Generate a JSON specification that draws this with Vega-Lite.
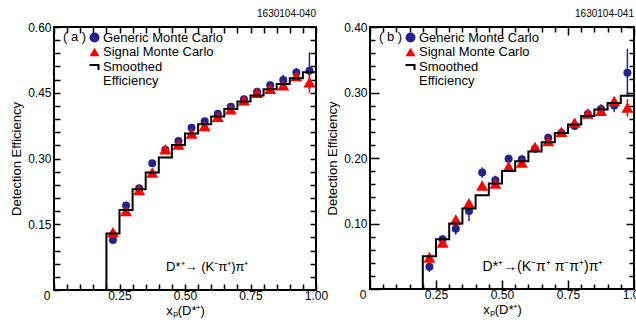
{
  "$schema": "https://vega.github.io/schema/vega-lite/v6.json",
  "padding": {"left": 9, "top": 8, "right": 0, "bottom": 4},
  "background": "white",
  "datasets": {
    "stepA": [
      {"edge": 0.2, "eff": 0}, {"edge": 0.25, "eff": 0.129}, {"edge": 0.3, "eff": 0.1825}, {"edge": 0.35, "eff": 0.23},
      {"edge": 0.4, "eff": 0.268}, {"edge": 0.45, "eff": 0.302}, {"edge": 0.5, "eff": 0.331}, {"edge": 0.55, "eff": 0.357},
      {"edge": 0.6, "eff": 0.378}, {"edge": 0.65, "eff": 0.396}, {"edge": 0.7, "eff": 0.413}, {"edge": 0.75, "eff": 0.43},
      {"edge": 0.8, "eff": 0.444}, {"edge": 0.85, "eff": 0.458}, {"edge": 0.9, "eff": 0.47}, {"edge": 0.95, "eff": 0.483},
      {"edge": 1.0, "eff": 0.497}
    ],
    "ptsA": [
      {"series": "Generic Monte Carlo", "x": 0.225, "eff": 0.114, "lo": 0.108, "hi": 0.120},
      {"series": "Generic Monte Carlo", "x": 0.275, "eff": 0.193, "lo": 0.187, "hi": 0.199},
      {"series": "Generic Monte Carlo", "x": 0.325, "eff": 0.232, "lo": 0.226, "hi": 0.238},
      {"series": "Generic Monte Carlo", "x": 0.375, "eff": 0.289, "lo": 0.283, "hi": 0.295},
      {"series": "Generic Monte Carlo", "x": 0.425, "eff": 0.320, "lo": 0.314, "hi": 0.326},
      {"series": "Generic Monte Carlo", "x": 0.475, "eff": 0.340, "lo": 0.334, "hi": 0.346},
      {"series": "Generic Monte Carlo", "x": 0.525, "eff": 0.370, "lo": 0.364, "hi": 0.376},
      {"series": "Generic Monte Carlo", "x": 0.575, "eff": 0.385, "lo": 0.379, "hi": 0.391},
      {"series": "Generic Monte Carlo", "x": 0.625, "eff": 0.402, "lo": 0.395, "hi": 0.409},
      {"series": "Generic Monte Carlo", "x": 0.675, "eff": 0.418, "lo": 0.411, "hi": 0.425},
      {"series": "Generic Monte Carlo", "x": 0.725, "eff": 0.435, "lo": 0.427, "hi": 0.443},
      {"series": "Generic Monte Carlo", "x": 0.775, "eff": 0.452, "lo": 0.444, "hi": 0.460},
      {"series": "Generic Monte Carlo", "x": 0.825, "eff": 0.467, "lo": 0.457, "hi": 0.477},
      {"series": "Generic Monte Carlo", "x": 0.875, "eff": 0.479, "lo": 0.467, "hi": 0.491},
      {"series": "Generic Monte Carlo", "x": 0.925, "eff": 0.496, "lo": 0.485, "hi": 0.507},
      {"series": "Generic Monte Carlo", "x": 0.975, "eff": 0.500, "lo": 0.458, "hi": 0.542},
      {"series": "Signal Monte Carlo", "x": 0.225, "eff": 0.132, "lo": 0.127, "hi": 0.137},
      {"series": "Signal Monte Carlo", "x": 0.275, "eff": 0.180, "lo": 0.175, "hi": 0.185},
      {"series": "Signal Monte Carlo", "x": 0.325, "eff": 0.228, "lo": 0.223, "hi": 0.233},
      {"series": "Signal Monte Carlo", "x": 0.375, "eff": 0.268, "lo": 0.263, "hi": 0.273},
      {"series": "Signal Monte Carlo", "x": 0.425, "eff": 0.321, "lo": 0.316, "hi": 0.326},
      {"series": "Signal Monte Carlo", "x": 0.475, "eff": 0.332, "lo": 0.327, "hi": 0.337},
      {"series": "Signal Monte Carlo", "x": 0.525, "eff": 0.357, "lo": 0.352, "hi": 0.362},
      {"series": "Signal Monte Carlo", "x": 0.575, "eff": 0.374, "lo": 0.369, "hi": 0.379},
      {"series": "Signal Monte Carlo", "x": 0.625, "eff": 0.395, "lo": 0.390, "hi": 0.400},
      {"series": "Signal Monte Carlo", "x": 0.675, "eff": 0.412, "lo": 0.407, "hi": 0.417},
      {"series": "Signal Monte Carlo", "x": 0.725, "eff": 0.433, "lo": 0.428, "hi": 0.438},
      {"series": "Signal Monte Carlo", "x": 0.775, "eff": 0.450, "lo": 0.445, "hi": 0.455},
      {"series": "Signal Monte Carlo", "x": 0.825, "eff": 0.459, "lo": 0.453, "hi": 0.465},
      {"series": "Signal Monte Carlo", "x": 0.875, "eff": 0.467, "lo": 0.460, "hi": 0.474},
      {"series": "Signal Monte Carlo", "x": 0.925, "eff": 0.488, "lo": 0.480, "hi": 0.496},
      {"series": "Signal Monte Carlo", "x": 0.975, "eff": 0.474, "lo": 0.450, "hi": 0.500}
    ],
    "txtA": [{"x": 0.585, "y": 0.052, "label": "D*⁺→ (K⁻π⁺)π⁺"}],
    "stepB": [
      {"edge": 0.2, "eff": 0}, {"edge": 0.25, "eff": 0.050}, {"edge": 0.3, "eff": 0.076}, {"edge": 0.35, "eff": 0.100},
      {"edge": 0.4, "eff": 0.123}, {"edge": 0.45, "eff": 0.143}, {"edge": 0.5, "eff": 0.161}, {"edge": 0.55, "eff": 0.180},
      {"edge": 0.6, "eff": 0.195}, {"edge": 0.65, "eff": 0.210}, {"edge": 0.7, "eff": 0.224}, {"edge": 0.75, "eff": 0.238},
      {"edge": 0.8, "eff": 0.251}, {"edge": 0.85, "eff": 0.264}, {"edge": 0.9, "eff": 0.274}, {"edge": 0.95, "eff": 0.284},
      {"edge": 1.0, "eff": 0.295}
    ],
    "ptsB": [
      {"series": "Generic Monte Carlo", "x": 0.225, "eff": 0.034, "lo": 0.026, "hi": 0.042},
      {"series": "Generic Monte Carlo", "x": 0.275, "eff": 0.076, "lo": 0.070, "hi": 0.082},
      {"series": "Generic Monte Carlo", "x": 0.325, "eff": 0.092, "lo": 0.083, "hi": 0.101},
      {"series": "Generic Monte Carlo", "x": 0.375, "eff": 0.119, "lo": 0.104, "hi": 0.134},
      {"series": "Generic Monte Carlo", "x": 0.425, "eff": 0.178, "lo": 0.170, "hi": 0.186},
      {"series": "Generic Monte Carlo", "x": 0.475, "eff": 0.166, "lo": 0.159, "hi": 0.173},
      {"series": "Generic Monte Carlo", "x": 0.525, "eff": 0.199, "lo": 0.193, "hi": 0.205},
      {"series": "Generic Monte Carlo", "x": 0.575, "eff": 0.198, "lo": 0.192, "hi": 0.204},
      {"series": "Generic Monte Carlo", "x": 0.625, "eff": 0.214, "lo": 0.208, "hi": 0.220},
      {"series": "Generic Monte Carlo", "x": 0.675, "eff": 0.231, "lo": 0.225, "hi": 0.237},
      {"series": "Generic Monte Carlo", "x": 0.725, "eff": 0.238, "lo": 0.232, "hi": 0.244},
      {"series": "Generic Monte Carlo", "x": 0.775, "eff": 0.249, "lo": 0.243, "hi": 0.255},
      {"series": "Generic Monte Carlo", "x": 0.825, "eff": 0.267, "lo": 0.260, "hi": 0.274},
      {"series": "Generic Monte Carlo", "x": 0.875, "eff": 0.275, "lo": 0.268, "hi": 0.282},
      {"series": "Generic Monte Carlo", "x": 0.925, "eff": 0.280, "lo": 0.270, "hi": 0.290},
      {"series": "Generic Monte Carlo", "x": 0.975, "eff": 0.330, "lo": 0.293, "hi": 0.367},
      {"series": "Signal Monte Carlo", "x": 0.225, "eff": 0.048, "lo": 0.040, "hi": 0.056},
      {"series": "Signal Monte Carlo", "x": 0.275, "eff": 0.071, "lo": 0.066, "hi": 0.076},
      {"series": "Signal Monte Carlo", "x": 0.325, "eff": 0.106, "lo": 0.101, "hi": 0.111},
      {"series": "Signal Monte Carlo", "x": 0.375, "eff": 0.131, "lo": 0.126, "hi": 0.136},
      {"series": "Signal Monte Carlo", "x": 0.425, "eff": 0.158, "lo": 0.153, "hi": 0.163},
      {"series": "Signal Monte Carlo", "x": 0.475, "eff": 0.161, "lo": 0.156, "hi": 0.166},
      {"series": "Signal Monte Carlo", "x": 0.525, "eff": 0.187, "lo": 0.182, "hi": 0.192},
      {"series": "Signal Monte Carlo", "x": 0.575, "eff": 0.193, "lo": 0.188, "hi": 0.198},
      {"series": "Signal Monte Carlo", "x": 0.625, "eff": 0.217, "lo": 0.212, "hi": 0.222},
      {"series": "Signal Monte Carlo", "x": 0.675, "eff": 0.226, "lo": 0.221, "hi": 0.231},
      {"series": "Signal Monte Carlo", "x": 0.725, "eff": 0.240, "lo": 0.235, "hi": 0.245},
      {"series": "Signal Monte Carlo", "x": 0.775, "eff": 0.254, "lo": 0.249, "hi": 0.259},
      {"series": "Signal Monte Carlo", "x": 0.825, "eff": 0.268, "lo": 0.263, "hi": 0.273},
      {"series": "Signal Monte Carlo", "x": 0.875, "eff": 0.272, "lo": 0.267, "hi": 0.277},
      {"series": "Signal Monte Carlo", "x": 0.925, "eff": 0.287, "lo": 0.281, "hi": 0.293},
      {"series": "Signal Monte Carlo", "x": 0.975, "eff": 0.277, "lo": 0.263, "hi": 0.290}
    ],
    "txtB": [{"x": 0.655, "y": 0.034, "label": "D*⁺→(K⁻π⁺ π⁻π⁺)π⁺"}]
  },
  "spacing": 54,
  "bounds": "flush",
  "resolve": {
    "scale": {"x": "independent", "y": "independent", "color": "independent", "shape": "independent"},
    "legend": {"color": "independent", "shape": "independent"}
  },
  "hconcat": [
    {
      "width": 262, "height": 263,
      "title": {"text": "1630104-040", "anchor": "end", "frame": "group", "fontSize": 10, "fontWeight": "normal", "font": "Liberation Sans", "offset": 2, "color": "black"},
      "resolve": {"axis": {"x": "independent", "y": "independent"}},
      "layer": [
        {
          "data": {"name": "ptsA"},
          "transform": [{"filter": "datum.series == 'Generic Monte Carlo'"}],
          "mark": {"type": "rule", "color": "#23238e", "strokeWidth": 1.5},
          "encoding": {
            "x": {"field": "x", "type": "quantitative", "scale": {"domain": [0, 1], "nice": false, "zero": false},
              "axis": {"orient": "bottom", "title": "xₚ(D*⁺)", "values": [0,0.25,0.5,0.75,1], "ticks": false, "labelPadding": 0,
                "labelExpr": "datum.value == 0 ? '0' : format(datum.value, '.2f')",
                "labelAlign": {"condition": {"test": "datum.value == 0", "value": "right"}, "value": "center"},
                "labelOffset": {"condition": {"test": "datum.value == 0", "value": -4}, "value": 0},
                "titlePadding": 3}},
            "y": {"field": "lo", "type": "quantitative", "scale": {"domain": [0, 0.6], "nice": false, "zero": false},
              "axis": {"orient": "left", "title": "Detection Efficiency", "values": [0.15,0.3,0.45,0.6], "ticks": false, "labelPadding": 3,
                "format": ".2f", "titlePadding": 4}},
            "y2": {"field": "hi"}
          }
        },
        {
          "data": {"name": "ptsA"},
          "transform": [{"filter": "datum.series == 'Generic Monte Carlo'"}],
          "mark": {"type": "point", "filled": true, "opacity": 1, "size": 64},
          "encoding": {
            "x": {"field": "x", "type": "quantitative",
              "axis": {"orient": "top", "offset": -263, "title": null, "labels": false, "tickSize": 6, "values": [0,0.05,0.1,0.15,0.2,0.25,0.3,0.35,0.4,0.45,0.5,0.55,0.6,0.65,0.7,0.75,0.8,0.85,0.9,0.95,1]}},
            "y": {"field": "eff", "type": "quantitative",
              "axis": {"orient": "right", "offset": -262, "title": null, "labels": false, "tickSize": 6, "values": [0,0.03,0.06,0.09,0.12,0.15,0.18,0.21,0.24,0.27,0.3,0.33,0.36,0.39,0.42,0.45,0.48,0.51,0.54,0.57,0.6]}},
            "color": {"field": "series", "type": "nominal",
              "scale": {"domain": ["Generic Monte Carlo", "Signal Monte Carlo", "Smoothed", "Efficiency"], "range": ["#23238e", "#ff0000", "#000000", "transparent"]},
              "legend": {"title": "( a )", "orient": "none", "legendX": 9, "legendY": 4, "padding": 0, "titleOrient": "left", "titleAnchor": "start", "titleBaseline": "top", "titlePadding": 1,
                "titleFontSize": 13, "titleFontWeight": "normal", "labelFontSize": 13, "labelOffset": 2, "rowPadding": 0.5, "symbolStrokeWidth": 0,
                "encode": {"symbols": {"update": {"size": {"signal": "datum.value == 'Generic Monte Carlo' ? 30 : (datum.value == 'Signal Monte Carlo' ? 121 : 100)"}}}}}},
            "shape": {"field": "series", "type": "nominal",
              "scale": {"domain": ["Generic Monte Carlo", "Signal Monte Carlo", "Smoothed", "Efficiency"], "range": ["circle", "triangle-up", "M-1,-0.5H1V0.7H0.6V-0.1H-1Z", "circle"]},
              "legend": {"title": "( a )", "orient": "none", "legendX": 9, "legendY": 4, "padding": 0, "titleOrient": "left", "titleAnchor": "start", "titleBaseline": "top", "titlePadding": 1,
                "titleFontSize": 13, "titleFontWeight": "normal", "labelFontSize": 13, "labelOffset": 2, "rowPadding": 0.5, "symbolStrokeWidth": 0,
                "encode": {"symbols": {"update": {"size": {"signal": "datum.value == 'Generic Monte Carlo' ? 30 : (datum.value == 'Signal Monte Carlo' ? 121 : 100)"}}}}}}
          }
        },
        {
          "data": {"name": "ptsA"},
          "transform": [{"filter": "datum.series == 'Signal Monte Carlo'"}],
          "mark": {"type": "rule", "color": "#ff0000", "strokeWidth": 1.5},
          "encoding": {
            "x": {"field": "x", "type": "quantitative",
              "axis": {"orient": "bottom", "offset": -263, "title": null, "labels": false, "tickSize": 6, "values": [0,0.05,0.1,0.15,0.2,0.25,0.3,0.35,0.4,0.45,0.5,0.55,0.6,0.65,0.7,0.75,0.8,0.85,0.9,0.95,1]}},
            "y": {"field": "lo", "type": "quantitative",
              "axis": {"orient": "left", "offset": -262, "title": null, "labels": false, "tickSize": 6, "values": [0,0.03,0.06,0.09,0.12,0.15,0.18,0.21,0.24,0.27,0.3,0.33,0.36,0.39,0.42,0.45,0.48,0.51,0.54,0.57,0.6]}},
            "y2": {"field": "hi"}
          }
        },
        {
          "data": {"name": "ptsA"},
          "transform": [{"filter": "datum.series == 'Signal Monte Carlo'"}],
          "mark": {"type": "point", "filled": true, "opacity": 1, "size": 144},
          "encoding": {
            "x": {"field": "x", "type": "quantitative", "axis": null},
            "y": {"field": "eff", "type": "quantitative", "axis": null},
            "color": {"field": "series", "type": "nominal"},
            "shape": {"field": "series", "type": "nominal"}
          }
        },
        {
          "data": {"name": "txtA"},
          "mark": {"type": "text", "fontSize": 13, "font": "Liberation Sans", "color": "black", "align": "center", "baseline": "middle"},
          "encoding": {
            "x": {"field": "x", "type": "quantitative", "axis": null},
            "y": {"field": "y", "type": "quantitative", "axis": null},
            "text": {"field": "label"}
          }
        },
        {
          "data": {"name": "stepA"},
          "mark": {"type": "line", "interpolate": "step-before", "color": "black", "strokeWidth": 2},
          "encoding": {
            "x": {"field": "edge", "type": "quantitative", "axis": null},
            "y": {"field": "eff", "type": "quantitative", "axis": null}
          }
        }
      ]
    },
    {
      "width": 264, "height": 262,
      "title": {"text": "1630104-041", "anchor": "end", "frame": "group", "fontSize": 10, "fontWeight": "normal", "font": "Liberation Sans", "offset": 2, "color": "black"},
      "resolve": {"axis": {"x": "independent", "y": "independent"}},
      "layer": [
        {
          "data": {"name": "ptsB"},
          "transform": [{"filter": "datum.series == 'Generic Monte Carlo'"}],
          "mark": {"type": "rule", "color": "#23238e", "strokeWidth": 1.5},
          "encoding": {
            "x": {"field": "x", "type": "quantitative", "scale": {"domain": [0, 1], "nice": false, "zero": false},
              "axis": {"orient": "bottom", "title": "xₚ(D*⁺)", "values": [0,0.25,0.5,0.75,1], "ticks": false, "labelPadding": 0,
                "labelExpr": "datum.value == 0 ? '0' : format(datum.value, '.2f')",
                "labelAlign": {"condition": {"test": "datum.value == 0", "value": "right"}, "value": "center"},
                "labelOffset": {"condition": {"test": "datum.value == 0", "value": -4}, "value": 0},
                "titlePadding": 3}},
            "y": {"field": "lo", "type": "quantitative", "scale": {"domain": [0, 0.4], "nice": false, "zero": false},
              "axis": {"orient": "left", "title": "Detection Efficiency", "values": [0.1,0.2,0.3,0.4], "ticks": false, "labelPadding": 3,
                "format": ".2f", "titlePadding": 4}},
            "y2": {"field": "hi"}
          }
        },
        {
          "data": {"name": "ptsB"},
          "transform": [{"filter": "datum.series == 'Generic Monte Carlo'"}],
          "mark": {"type": "point", "filled": true, "opacity": 1, "size": 64},
          "encoding": {
            "x": {"field": "x", "type": "quantitative",
              "axis": {"orient": "top", "offset": -262, "title": null, "labels": false, "values": [0,0.05,0.1,0.15,0.2,0.25,0.3,0.35,0.4,0.45,0.5,0.55,0.6,0.65,0.7,0.75,0.8,0.85,0.9,0.95,1],
                "tickSize": {"condition": {"test": "abs(datum.value*4 - round(datum.value*4)) < 0.001", "value": 9}, "value": 5}}},
            "y": {"field": "eff", "type": "quantitative",
              "axis": {"orient": "right", "offset": -264, "title": null, "labels": false, "values": [0,0.02,0.04,0.06,0.08,0.1,0.12,0.14,0.16,0.18,0.2,0.22,0.24,0.26,0.28,0.3,0.32,0.34,0.36,0.38,0.4],
                "tickSize": {"condition": {"test": "abs(datum.value*10 - round(datum.value*10)) < 0.001", "value": 9}, "value": 5}}},
            "color": {"field": "series", "type": "nominal",
              "scale": {"domain": ["Generic Monte Carlo", "Signal Monte Carlo", "Smoothed", "Efficiency"], "range": ["#23238e", "#ff0000", "#000000", "transparent"]},
              "legend": {"title": "( b )", "orient": "none", "legendX": 9, "legendY": 4, "padding": 0, "titleOrient": "left", "titleAnchor": "start", "titleBaseline": "top", "titlePadding": 1,
                "titleFontSize": 13, "titleFontWeight": "normal", "labelFontSize": 13, "labelOffset": 2, "rowPadding": 0.5, "symbolStrokeWidth": 0,
                "encode": {"symbols": {"update": {"size": {"signal": "datum.value == 'Generic Monte Carlo' ? 30 : (datum.value == 'Signal Monte Carlo' ? 121 : 100)"}}}}}},
            "shape": {"field": "series", "type": "nominal",
              "scale": {"domain": ["Generic Monte Carlo", "Signal Monte Carlo", "Smoothed", "Efficiency"], "range": ["circle", "triangle-up", "M-1,-0.5H1V0.7H0.6V-0.1H-1Z", "circle"]},
              "legend": {"title": "( b )", "orient": "none", "legendX": 9, "legendY": 4, "padding": 0, "titleOrient": "left", "titleAnchor": "start", "titleBaseline": "top", "titlePadding": 1,
                "titleFontSize": 13, "titleFontWeight": "normal", "labelFontSize": 13, "labelOffset": 2, "rowPadding": 0.5, "symbolStrokeWidth": 0,
                "encode": {"symbols": {"update": {"size": {"signal": "datum.value == 'Generic Monte Carlo' ? 30 : (datum.value == 'Signal Monte Carlo' ? 121 : 100)"}}}}}}
          }
        },
        {
          "data": {"name": "ptsB"},
          "transform": [{"filter": "datum.series == 'Signal Monte Carlo'"}],
          "mark": {"type": "rule", "color": "#ff0000", "strokeWidth": 1.5},
          "encoding": {
            "x": {"field": "x", "type": "quantitative",
              "axis": {"orient": "bottom", "offset": -262, "title": null, "labels": false, "values": [0,0.05,0.1,0.15,0.2,0.25,0.3,0.35,0.4,0.45,0.5,0.55,0.6,0.65,0.7,0.75,0.8,0.85,0.9,0.95,1],
                "tickSize": {"condition": {"test": "abs(datum.value*4 - round(datum.value*4)) < 0.001", "value": 8}, "value": 5}}},
            "y": {"field": "lo", "type": "quantitative",
              "axis": {"orient": "left", "offset": -264, "title": null, "labels": false, "values": [0,0.02,0.04,0.06,0.08,0.1,0.12,0.14,0.16,0.18,0.2,0.22,0.24,0.26,0.28,0.3,0.32,0.34,0.36,0.38,0.4],
                "tickSize": {"condition": {"test": "abs(datum.value*10 - round(datum.value*10)) < 0.001", "value": 8}, "value": 5}}},
            "y2": {"field": "hi"}
          }
        },
        {
          "data": {"name": "ptsB"},
          "transform": [{"filter": "datum.series == 'Signal Monte Carlo'"}],
          "mark": {"type": "point", "filled": true, "opacity": 1, "size": 144},
          "encoding": {
            "x": {"field": "x", "type": "quantitative", "axis": null},
            "y": {"field": "eff", "type": "quantitative", "axis": null},
            "color": {"field": "series", "type": "nominal"},
            "shape": {"field": "series", "type": "nominal"}
          }
        },
        {
          "data": {"name": "txtB"},
          "mark": {"type": "text", "fontSize": 14, "font": "Liberation Sans", "color": "black", "align": "center", "baseline": "middle"},
          "encoding": {
            "x": {"field": "x", "type": "quantitative", "axis": null},
            "y": {"field": "y", "type": "quantitative", "axis": null},
            "text": {"field": "label"}
          }
        },
        {
          "data": {"name": "stepB"},
          "mark": {"type": "line", "interpolate": "step-before", "color": "black", "strokeWidth": 2},
          "encoding": {
            "x": {"field": "edge", "type": "quantitative", "axis": null},
            "y": {"field": "eff", "type": "quantitative", "axis": null}
          }
        }
      ]
    }
  ],
  "config": {
    "view": {"stroke": "black", "strokeWidth": 2},
    "font": "Liberation Sans",
    "axis": {"domain": false, "grid": false, "zindex": 1, "tickColor": "black", "tickWidth": 1.5, "tickOpacity": 1, "labelColor": "black", "labelFont": "Liberation Sans", "labelFontSize": 12,
      "titleFont": "Liberation Sans", "titleFontSize": 13, "titleFontWeight": "normal", "titleColor": "black", "labelOverlap": false, "labelFlush": false, "labelBound": false},
    "legend": {"labelFont": "Liberation Sans", "titleFont": "Liberation Sans", "labelColor": "black", "titleColor": "black", "labelLimit": 300}
  }
}
